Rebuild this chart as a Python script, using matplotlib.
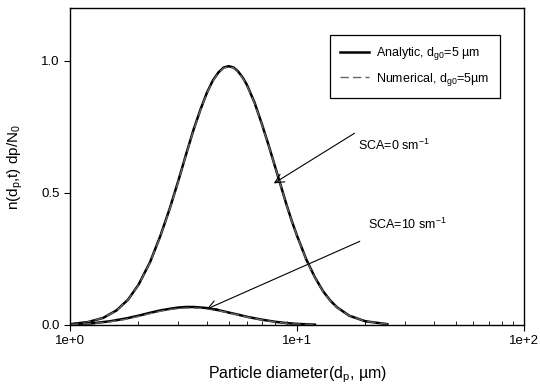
import numpy as np
import matplotlib.pyplot as plt
from matplotlib.ticker import FixedLocator, LogLocator, NullFormatter

plt.rcParams['font.family'] = ['Liberation Sans', 'DejaVu Sans']
plt.rcParams['mathtext.default'] = 'regular'

# size distributions
# SCA = 0 sm^-1
d_sca0 = [1.0, 1.2, 1.4, 1.6, 1.8, 2.0, 2.25, 2.5, 2.75, 3.0, 3.25, 3.5, 3.75, 4.0,
          4.25, 4.5, 4.75, 5.0, 5.25, 5.5, 5.75, 6.0, 6.5, 7.0, 7.5, 8.0, 8.5, 9.0,
          9.5, 10.0, 11.0, 12.0, 13.0, 14.0, 15.0, 17.0, 20.0, 25.0]
n_sca0_ana = [0.003, 0.011, 0.027, 0.055, 0.096, 0.152, 0.238, 0.338, 0.442, 0.547,
              0.649, 0.740, 0.815, 0.878, 0.925, 0.956, 0.975, 0.98, 0.975, 0.960,
              0.938, 0.911, 0.842, 0.761, 0.680, 0.600, 0.525, 0.454, 0.392, 0.338,
              0.247, 0.180, 0.129, 0.093, 0.067, 0.035, 0.014, 0.003]
n_sca0_num = [0.003, 0.011, 0.027, 0.054, 0.095, 0.151, 0.237, 0.336, 0.440, 0.545,
              0.647, 0.738, 0.813, 0.876, 0.923, 0.954, 0.973, 0.978, 0.973, 0.958,
              0.936, 0.909, 0.840, 0.760, 0.679, 0.599, 0.524, 0.453, 0.391, 0.337,
              0.246, 0.179, 0.128, 0.092, 0.066, 0.035, 0.014, 0.003]

# SCA = 10 sm^-1
d_sca10 = [1.0, 1.25, 1.5, 1.75, 2.0, 2.25, 2.5, 2.75, 3.0, 3.25, 3.5, 3.75, 4.0,
           4.5, 5.0, 5.5, 6.0, 7.0, 8.0, 9.0, 10.0, 12.0]
n_sca10_ana = [0.002, 0.006, 0.014, 0.024, 0.035, 0.046, 0.055, 0.061, 0.066, 0.068, 0.068,
               0.066, 0.064, 0.056, 0.047, 0.039, 0.031, 0.020, 0.012, 0.007, 0.004, 0.001]
n_sca10_num = [0.002, 0.005, 0.012, 0.021, 0.032, 0.043, 0.052, 0.058, 0.062, 0.064, 0.064,
               0.063, 0.061, 0.054, 0.046, 0.038, 0.030, 0.019, 0.011, 0.006, 0.003, 0.001]

fig = plt.figure(figsize=(5.4, 3.85), dpi=100)
ax = fig.add_axes([0.13, 0.156, 0.84, 0.823])

ax.plot(d_sca0, n_sca0_ana, color='black', lw=1.8, label='Analytic, d$_{g0}$=5 µm')
ax.plot(d_sca0, n_sca0_num, color='#666666', lw=1.0, ls=(0, (6, 3)),
        label='Numerical, d$_{g0}$=5µm')
ax.plot(d_sca10, n_sca10_ana, color='black', lw=1.8)
ax.plot(d_sca10, n_sca10_num, color='#666666', lw=1.0, ls=(0, (6, 3)))

ax.set_xscale('log')
ax.set_xlim(1, 100)
ax.set_ylim(0, 1.2)

ax.xaxis.set_major_locator(FixedLocator([1, 10, 100]))
ax.set_xticklabels(['1e+0', '1e+1', '1e+2'])
ax.xaxis.set_minor_locator(LogLocator(base=10, subs=np.arange(2, 10)))
ax.xaxis.set_minor_formatter(NullFormatter())
ax.set_yticks([0.0, 0.5, 1.0])
ax.set_yticklabels(['0.0', '0.5', '1.0'])
ax.tick_params(axis='both', which='major', direction='out', length=4, width=0.8,
               labelsize=9.5, colors='black')
ax.tick_params(axis='x', which='minor', direction='in', length=3, width=0.6)
for s in ax.spines.values():
    s.set_linewidth(1.0)

ax.set_xlabel('Particle diameter(d$_p$, µm)', fontsize=11.5, labelpad=12)
ax.set_ylabel('n(d$_p$,t) dp/N$_0$', fontsize=11, labelpad=12)

ax.annotate('SCA=0 sm$^{-1}$', xy=(7.9, 0.536), xytext=(18.6, 0.68),
            fontsize=9, va='center', ha='left',
            arrowprops=dict(arrowstyle='->', lw=0.8, color='black', mutation_scale=16,
                            shrinkA=0, shrinkB=0, relpos=(-0.05, 1.3)))
ax.annotate('SCA=10 sm$^{-1}$', xy=(4.0, 0.06), xytext=(20.5, 0.38),
            fontsize=9, va='center', ha='left',
            arrowprops=dict(arrowstyle='->', lw=0.8, color='black', mutation_scale=16,
                            shrinkA=0, shrinkB=0, relpos=(-0.1, -0.6)))

leg = ax.legend(loc='upper right', bbox_to_anchor=(0.947, 0.915), borderaxespad=0,
                fontsize=9, fancybox=False, edgecolor='black', framealpha=1,
                handlelength=2.3, handletextpad=0.6, borderpad=0.8, labelspacing=0.7)
leg.get_frame().set_linewidth(0.9)

fig.savefig('out.png', dpi=100)
